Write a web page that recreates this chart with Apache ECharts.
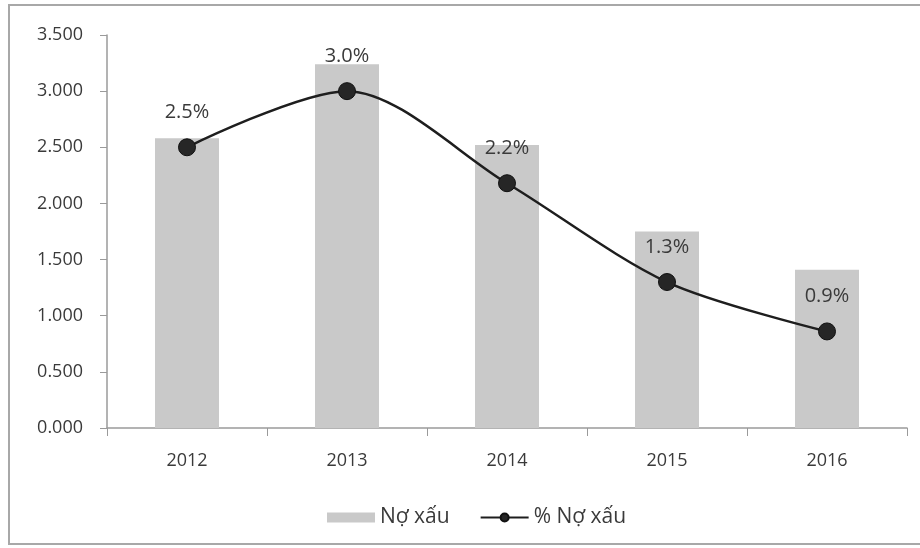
<!DOCTYPE html>
<html>
<head>
<meta charset="utf-8">
<script src="https://cdn.jsdelivr.net/npm/echarts@6/dist/echarts.min.js"></script>
<style>
html,body{margin:0;padding:0;background:#fff;}
#frame{position:absolute;left:8px;top:4px;width:930px;height:541px;border:2px solid #a8a8a8;box-sizing:border-box;}
#chart{position:absolute;left:0;top:0;width:920px;height:548px;}
</style>
</head>
<body>
<div id="frame"></div>
<div id="chart"></div>
<script>
const categories = ['2012', '2013', '2014', '2015', '2016'];
const noXau = [2.58, 3.24, 2.52, 1.75, 1.41];
const pctNoXau = [2.5, 3.0, 2.18, 1.3, 0.86];
const seriesNames = ['Nợ xấu', '% Nợ xấu'];

const chart = echarts.init(document.getElementById('chart'), null, {renderer: 'canvas'});
const font = 'Open Sans';
const txt = '#3a3a3a';
chart.setOption({
  animation: false,
  backgroundColor: 'transparent',
  grid: {left: 107, right: 13, top: 35, bottom: 120, containLabel: false},
  legend: {
    bottom: 15,
    left: 322,
    itemGap: 30,
    itemWidth: 48,
    itemHeight: 10,
    textStyle: {fontFamily: font, fontSize: 21, color: txt},
    data: [
      {name: seriesNames[0], icon: 'rect'},
      {name: seriesNames[1]}
    ]
  },
  xAxis: {
    type: 'category',
    data: categories,
    axisLine: {lineStyle: {color: '#9a9a9a', width: 1.5}},
    axisTick: {show: true, length: 8, lineStyle: {color: '#9a9a9a'}},
    axisLabel: {fontFamily: font, fontSize: 18, color: txt, margin: 24}
  },
  yAxis: {
    type: 'value',
    min: 0,
    max: 3.5,
    interval: 0.5,
    splitLine: {show: false},
    axisLine: {show: true, lineStyle: {color: '#9a9a9a', width: 1.5}},
    axisTick: {show: true, length: 7, lineStyle: {color: '#9a9a9a'}},
    axisLabel: {fontFamily: font, fontSize: 18, color: txt, margin: 24,
      formatter: v => v.toFixed(3)}
  },
  series: [
    {
      name: seriesNames[0],
      type: 'bar',
      data: noXau,
      barWidth: 64,
      itemStyle: {color: '#c9c9c9'}
    },
    {
      name: seriesNames[1],
      type: 'line',
      data: pctNoXau,
      smooth: 0.3,
      symbol: 'circle',
      symbolSize: 17,
      lineStyle: {color: '#1e1e1e', width: 2.5},
      itemStyle: {color: '#262626', borderColor: '#111', borderWidth: 1},
      label: {
        show: true,
        position: 'top',
        distance: 16,
        fontFamily: font,
        fontSize: 20,
        color: txt,
        formatter: p => p.value.toFixed(1) + '%'
      }
    }
  ]
});
</script>
</body>
</html>
